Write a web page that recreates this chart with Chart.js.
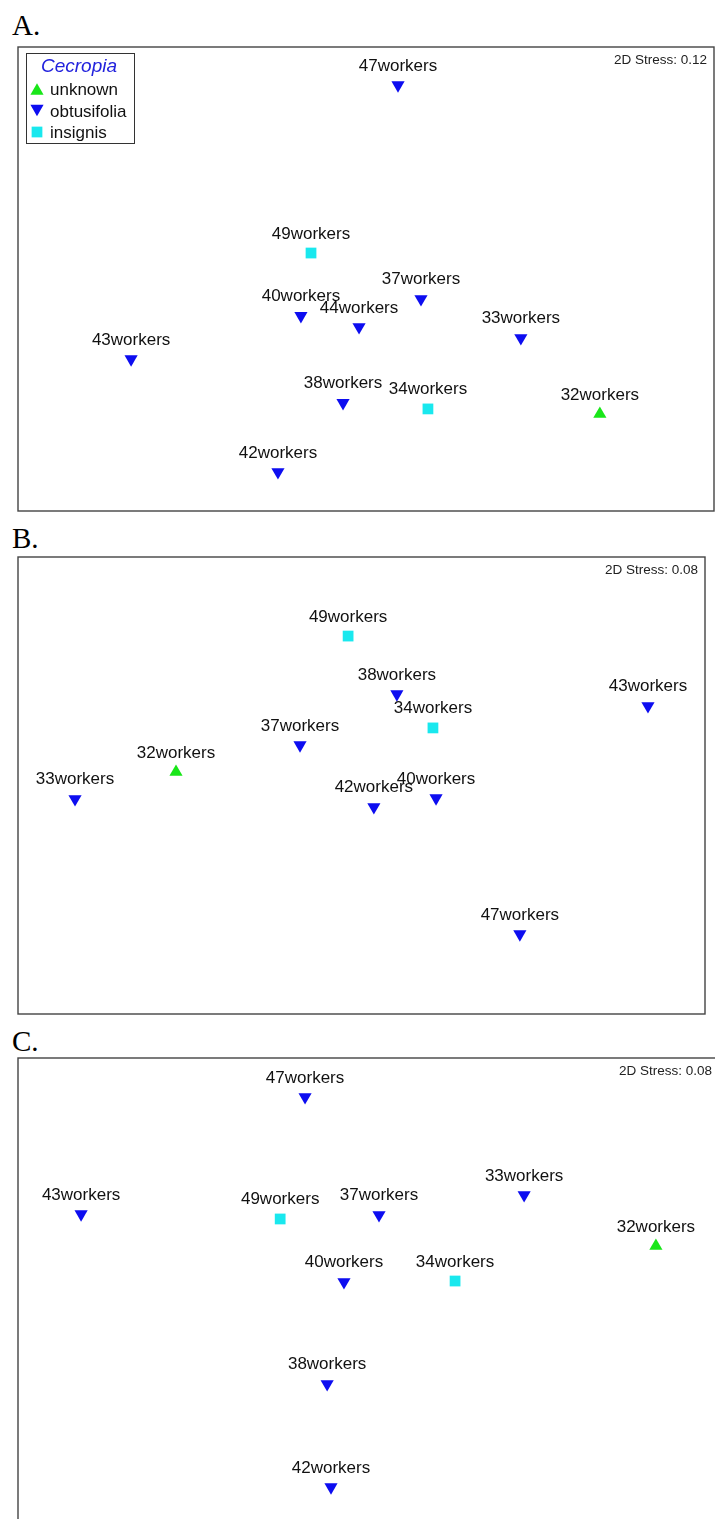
<!DOCTYPE html>
<html>
<head>
<meta charset="utf-8">
<script src="https://cdn.jsdelivr.net/npm/chart.js@4.4.1/dist/chart.umd.min.js"></script>
<style>
  html, body { margin: 0; padding: 0; background: #fff; width: 715px; height: 1519px; overflow: hidden; position: relative; }
  .tag { position: absolute; left: 12px; font-family: "Liberation Serif", "Times New Roman", serif; font-size: 29px; line-height: 29px; color: #000; }
  .panel { position: absolute; }
</style>
</head>
<body>
<div class="tag" style="top:11px">A.</div>
<div class="tag" style="top:524px">B.</div>
<div class="tag" style="top:1027px">C.</div>
<canvas id="chartA" class="panel"></canvas>
<canvas id="chartB" class="panel"></canvas>
<canvas id="chartC" class="panel"></canvas>
<script>
// Host-plant species of each colony
const speciesNames = ['unknown', 'obtusifolia', 'insignis'];

// Panel A — nMDS ordination, 2D stress 0.12
const samplesA = ['47workers', '49workers', '37workers', '40workers', '44workers', '33workers', '43workers', '38workers', '34workers', '32workers', '42workers'];
const speciesA = ['obtusifolia', 'insignis', 'obtusifolia', 'obtusifolia', 'obtusifolia', 'obtusifolia', 'obtusifolia', 'obtusifolia', 'insignis', 'unknown', 'obtusifolia'];
const dim1A = [0.092, -0.158, 0.158, -0.187, -0.020, 0.445, -0.675, -0.066, 0.178, 0.672, -0.253];
const dim2A = [0.836, 0.112, -0.086, -0.159, -0.207, -0.254, -0.345, -0.534, -0.560, -0.582, -0.832];
const stressA = '0.12';

// Panel B — nMDS ordination, 2D stress 0.08
const samplesB = ['49workers', '38workers', '43workers', '34workers', '37workers', '32workers', '33workers', '40workers', '42workers', '47workers'];
const speciesB = ['insignis', 'obtusifolia', 'obtusifolia', 'insignis', 'obtusifolia', 'unknown', 'obtusifolia', 'obtusifolia', 'obtusifolia', 'obtusifolia'];
const dim1B = [-0.039, 0.103, 0.834, 0.208, -0.179, -0.540, -0.834, 0.217, 0.036, 0.461];
const dim2B = [0.654, 0.400, 0.348, 0.252, 0.177, 0.059, -0.059, -0.055, -0.094, -0.650];
const stressB = '0.08';

// Panel C — nMDS ordination, 2D stress 0.08
const samplesC = ['47workers', '33workers', '43workers', '37workers', '49workers', '32workers', '40workers', '34workers', '38workers', '42workers'];
const speciesC = ['obtusifolia', 'obtusifolia', 'obtusifolia', 'obtusifolia', 'insignis', 'unknown', 'obtusifolia', 'insignis', 'obtusifolia', 'obtusifolia'];
const dim1C = [-0.181, 0.444, -0.820, 0.030, -0.252, 0.820, -0.070, 0.247, -0.118, -0.107];
const dim2C = [0.834, 0.417, 0.336, 0.332, 0.315, 0.200, 0.047, 0.051, -0.387, -0.826];
const stressC = '0.08';

// Marker style per species
const markerStyles = {
  unknown:     { color: '#19e619', pointStyle: 'triangle', rotation: 0 },
  obtusifolia: { color: '#0d0df0', pointStyle: 'triangle', rotation: 180 },
  insignis:    { color: '#19e8ee', pointStyle: 'rect', rotation: 0 }
};
const MARKER_RADIUS = 7.6;
const PAD = 2;
const LABEL_FONT = '17px "Liberation Sans", Arial, sans-serif';

function buildDatasets(samples, species, dim1, dim2) {
  return speciesNames.map(sp => {
    const st = markerStyles[sp];
    const data = [];
    samples.forEach((name, i) => {
      if (species[i] === sp) data.push({ x: dim1[i], y: dim2[i], name: name });
    });
    return {
      label: sp,
      data: data,
      pointStyle: st.pointStyle,
      rotation: st.rotation,
      pointRadius: MARKER_RADIUS,
      pointBackgroundColor: st.color,
      pointBorderWidth: 0,
      borderWidth: 0,
      showLine: false
    };
  });
}

// Frame around the plotting area
const framePlugin = {
  id: 'frame',
  beforeDatasetsDraw(chart) {
    const a = chart.chartArea, ctx = chart.ctx;
    ctx.save();
    ctx.strokeStyle = '#444';
    ctx.lineWidth = 1.4;
    ctx.strokeRect(a.left, a.top, a.right - a.left, a.bottom - a.top);
    ctx.restore();
  }
};

// Sample names written above each marker, plus the stress value
const annotatePlugin = {
  id: 'annotate',
  afterDatasetsDraw(chart, args, opts) {
    const ctx = chart.ctx, a = chart.chartArea;
    ctx.save();
    ctx.font = LABEL_FONT;
    ctx.fillStyle = '#111';
    ctx.textAlign = 'center';
    ctx.textBaseline = 'alphabetic';
    chart.data.datasets.forEach((ds, di) => {
      const meta = chart.getDatasetMeta(di);
      meta.data.forEach((el, j) => {
        ctx.fillText(ds.data[j].name, el.x, el.y - 14.5);
      });
    });
    // stress note sits just inside the right edge of the unit square
    const xEdge = chart.scales.x.getPixelForValue(1);
    ctx.font = '13.5px "Liberation Sans", Arial, sans-serif';
    ctx.fillStyle = '#222';
    ctx.textAlign = 'right';
    ctx.fillText('2D Stress: ' + opts.stress, xEdge - 7, a.top + 17);
    ctx.restore();
  }
};

// Boxed key listing the host species
const keyPlugin = {
  id: 'speciesKey',
  afterDraw(chart, args, opts) {
    if (!opts.show) return;
    const ctx = chart.ctx, a = chart.chartArea;
    const left = a.left + 8, top = a.top + 6, w = 108, h = 90;
    ctx.save();
    ctx.fillStyle = '#fff';
    ctx.fillRect(left, top, w, h);
    ctx.strokeStyle = '#333';
    ctx.lineWidth = 1;
    ctx.strokeRect(left + 0.5, top + 0.5, w, h);
    ctx.font = 'italic 19px "Liberation Sans", Arial, sans-serif';
    ctx.fillStyle = '#2222dd';
    ctx.textAlign = 'center';
    ctx.fillText('Cecropia', left + w / 2 - 1, top + 19);
    ctx.font = LABEL_FONT;
    ctx.textAlign = 'left';
    speciesNames.forEach((sp, i) => {
      const st = markerStyles[sp];
      const rowY = top + 36 + i * 21.5;
      let cy = rowY;
      if (st.pointStyle === 'triangle') cy += (st.rotation ? -1 : 1) * MARKER_RADIUS / 4;
      ctx.fillStyle = st.color;
      Chart.helpers.drawPoint(ctx, { pointStyle: st.pointStyle, rotation: st.rotation, radius: MARKER_RADIUS, borderWidth: 0 }, left + 11, cy);
      ctx.fillStyle = '#111';
      ctx.fillText(sp, left + 24, rowY + 6);
    });
    ctx.restore();
  }
};

// box: position and size of the unit square [-1,1]x[-1,1]; extra: how far the frame runs past it (right, bottom)
function makePanel(id, box, extra, samples, species, dim1, dim2, stress, showKey) {
  const canvas = document.getElementById(id);
  const fw = box.w + extra.r, fh = box.h + extra.b;
  canvas.width = fw + 2 * PAD;
  canvas.height = fh + 2 * PAD;
  canvas.style.left = (box.x - PAD) + 'px';
  canvas.style.top = (box.y - PAD) + 'px';
  canvas.style.width = canvas.width + 'px';
  canvas.style.height = canvas.height + 'px';
  const xMax = -1 + 2 * fw / box.w;
  const yMin = 1 - 2 * fh / box.h;
  return new Chart(canvas, {
    type: 'scatter',
    data: { datasets: buildDatasets(samples, species, dim1, dim2) },
    options: {
      responsive: false,
      animation: false,
      devicePixelRatio: 1,
      events: [],
      layout: { padding: PAD, autoPadding: false },
      scales: {
        x: { type: 'linear', display: false, min: -1, max: xMax },
        y: { type: 'linear', display: false, min: yMin, max: 1 }
      },
      plugins: {
        legend: { display: false },
        tooltip: { enabled: false },
        annotate: { stress: stress },
        speciesKey: { show: showKey }
      }
    },
    plugins: [framePlugin, annotatePlugin, keyPlugin]
  });
}

makePanel('chartA', { x: 18, y: 47, w: 696, h: 464 }, { r: 0, b: 0 }, samplesA, speciesA, dim1A, dim2A, stressA, true);
makePanel('chartB', { x: 18, y: 557, w: 687, h: 457 }, { r: 0, b: 0 }, samplesB, speciesB, dim1B, dim2B, stressB, false);
makePanel('chartC', { x: 18, y: 1058, w: 701, h: 470 }, { r: 20, b: 20 }, samplesC, speciesC, dim1C, dim2C, stressC, false);
</script>
</body>
</html>
